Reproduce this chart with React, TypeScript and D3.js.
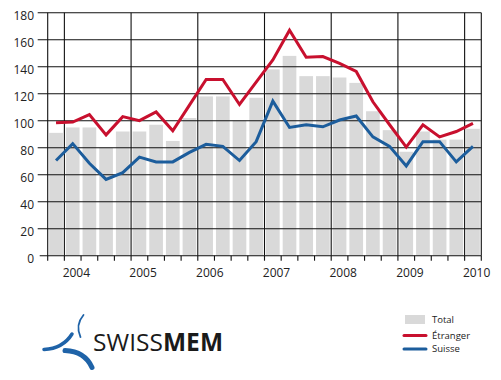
import React from "react";
import * as d3 from "d3";

// Quarterly data: Q4 2003 .. Q1 2010
const quarters = [
  "2003Q4",
  "2004Q1", "2004Q2", "2004Q3", "2004Q4",
  "2005Q1", "2005Q2", "2005Q3", "2005Q4",
  "2006Q1", "2006Q2", "2006Q3", "2006Q4",
  "2007Q1", "2007Q2", "2007Q3", "2007Q4",
  "2008Q1", "2008Q2", "2008Q3", "2008Q4",
  "2009Q1", "2009Q2", "2009Q3", "2009Q4",
  "2010Q1",
];
const total = [91, 95, 95, 80, 92, 92, 97, 85, 102, 118, 118, 100, 117, 138, 148, 133, 133, 132, 128, 107, 93, 77, 92, 86, 86, 94];
const etranger = [98.5, 99, 104.5, 89.5, 103, 100, 106.5, 92.5, 111.5, 130.5, 130.5, 112, 128.5, 145, 167, 147, 147.5, 142.5, 136.5, 114, 97, 80.5, 97, 88, 92, 98];
const suisse = [70.5, 83, 68.5, 56.5, 61.5, 73, 69.5, 69.5, 76.5, 82.5, 81, 70.5, 84.5, 114.5, 95, 97, 95.5, 100.5, 103.5, 88, 81, 66.5, 84.5, 84.5, 69.5, 81];
const yearLabels = ["2004", "2005", "2006", "2007", "2008", "2009", "2010"];
const yTicks = [0, 20, 40, 60, 80, 100, 120, 140, 160, 180];
const legendLabels = ["Total", "Étranger", "Suisse"];

const W = 501;
const H = 380;
const L = 47.7;
const R = 481.3;
const T = 12.7;
const B = 255.7;

const RED = "#c8102e";
const BLUE = "#1c5d9c";
const GREY = "#d9d9d9";
const FONT = "'Open Sans', 'DejaVu Sans', sans-serif";

export default function App() {
  const x = d3
    .scaleBand<number>()
    .domain(quarters.map((_, i) => i))
    .range([L, R])
    .paddingInner(0.18)
    .paddingOuter(0.09);
  const boundary = d3.scaleLinear().domain([0, quarters.length]).range([L, R]);
  const y = d3.scaleLinear().domain([0, 180]).range([B, T]);
  const cx = (i: number) => (x(i) as number) + x.bandwidth() / 2;

  const line = d3
    .line<number>()
    .x((_, i) => cx(i))
    .y((d) => y(d));

  const yearIdx = yearLabels.map((_, k) => 1 + 4 * k);

  return (
    <div style={{ position: "absolute", left: 0, top: 0 }}>
      <svg width={W} height={H} style={{ display: "block", background: "#fff" }}>
        {/* bars */}
        {total.map((v, i) => (
          <rect
            key={"b" + i}
            x={x(i)}
            y={y(v)}
            width={x.bandwidth()}
            height={B - y(v)}
            fill={GREY}
          />
        ))}
        {/* horizontal grid */}
        {yTicks.map((t) => (
          <line
            key={"g" + t}
            x1={t === 0 ? L - 8 : L - 10}
            x2={R}
            y1={y(t)}
            y2={y(t)}
            stroke="#111"
            strokeWidth={1.1}
          />
        ))}
        {/* vertical lines: left axis, year boundaries, right edge */}
        {[0, ...yearIdx, quarters.length].map((k) => (
          <line
            key={"v" + k}
            x1={boundary(k)}
            x2={boundary(k)}
            y1={T}
            y2={B}
            stroke="#111"
            strokeWidth={1.1}
          />
        ))}
        {/* x ticks */}
        {d3.range(quarters.length + 1).map((k) => (
          <line
            key={"t" + k}
            x1={boundary(k)}
            x2={boundary(k)}
            y1={B}
            y2={B + 5}
            stroke="#111"
            strokeWidth={1.1}
          />
        ))}
        {/* y labels */}
        {yTicks.map((t) => (
          <text
            key={"yl" + t}
            x={34}
            y={y(t) + 7.3}
            textAnchor="end"
            fontFamily={FONT}
            fontSize={12}
            fill="#222"
          >
            {t}
          </text>
        ))}
        {/* year labels */}
        {yearLabels.map((lab, k) => (
          <text
            key={"xl" + lab}
            x={boundary(yearIdx[k]) + 12}
            y={276.5}
            textAnchor="middle"
            fontFamily={FONT}
            fontSize={12}
            fill="#222"
          >
            {lab}
          </text>
        ))}
        {/* lines */}
        <path
          d={line(etranger) || ""}
          fill="none"
          stroke={RED}
          strokeWidth={3}
          strokeLinejoin="miter"
        />
        <path
          d={line(suisse) || ""}
          fill="none"
          stroke={BLUE}
          strokeWidth={3}
          strokeLinejoin="miter"
        />

        {/* legend */}
        <g fontFamily={FONT} fontSize={9.5} fill="#222">
          <rect x={405} y={315} width={20} height={9} fill={GREY} />
          <text x={432} y={323.3}>{legendLabels[0]}</text>
          <line x1={404} x2={426} y1={335.5} y2={335.5} stroke={RED} strokeWidth={3} strokeLinecap="round" />
          <text x={432} y={338.8}>{legendLabels[1]}</text>
          <line x1={404} x2={426} y1={349} y2={349} stroke={BLUE} strokeWidth={3} strokeLinecap="round" />
          <text x={432} y={352.3}>{legendLabels[2]}</text>
        </g>

        {/* logo */}
        <g fill="none" stroke="#1f63a8" strokeLinecap="round">
          <path d="M 44,349.5 Q 63,348.5 72,334" strokeWidth={3.5} />
          <path d="M 83.5,315 Q 75,325 80.5,337" strokeWidth={1.8} />
          <path d="M 65,350.5 Q 85,351.5 92,367.5" strokeWidth={5} />
        </g>
        <text x={93} y={350.5} fontFamily={FONT} fontSize={24.5} fill="#1a1a1a" textLength={130} lengthAdjust="spacing">
          <tspan>SWISS</tspan>
          <tspan fontWeight="bold">MEM</tspan>
        </text>
      </svg>
    </div>
  );
}
